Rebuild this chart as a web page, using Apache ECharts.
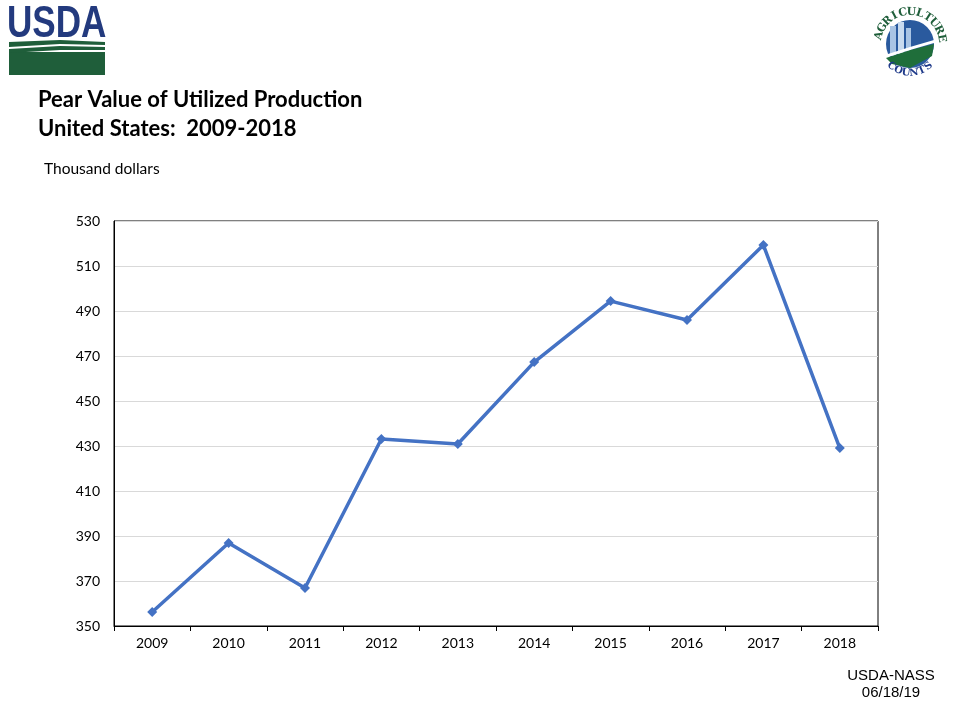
<!DOCTYPE html>
<html>
<head>
<meta charset="utf-8">
<script src="https://cdn.jsdelivr.net/npm/echarts@6/dist/echarts.min.js"></script>
<style>
html,body{margin:0;padding:0;background:#fff;}
#c{width:960px;height:720px;}
</style>
</head>
<body>
<div id="c"></div>
<script>
var years = ['2009','2010','2011','2012','2013','2014','2015','2016','2017','2018'];
var values = [356.2, 386.9, 366.9, 433.1, 430.9, 467.3, 494.4, 486.0, 519.3, 429.1];
var yTicks = {min: 350, max: 530, interval: 20};

var chart = echarts.init(document.getElementById('c'), null, {renderer: 'canvas'});

// Agriculture Counts arc letters
var arcText = 'AGRICULTURE'.split('');
var cx = 910, cy = 44, R = 32;
var arcEls = [];
var startA = -165, endA = -10;
arcText.forEach(function(ch, i){
  var a = (startA + (endA - startA) * i / (arcText.length - 1)) * Math.PI / 180;
  arcEls.push({
    type: 'text', x: cx + R * Math.cos(a), y: cy + R * Math.sin(a),
    rotation: -(a + Math.PI/2),
    style: {text: ch, fill: '#1f5e3a', font: 'bold 11px "DejaVu Serif"', align: 'center', verticalAlign: 'middle'}
  });
});
var counts = 'COUNTS'.split('');
counts.forEach(function(ch, i){
  var a = (130 - (80) * i / (counts.length - 1)) * Math.PI / 180;
  arcEls.push({
    type: 'text', x: cx + 29 * Math.cos(a), y: cy + 29 * Math.sin(a),
    rotation: -(a - Math.PI/2),
    style: {text: ch, fill: '#1f3a8a', font: 'bold 10px "DejaVu Serif"', align: 'center', verticalAlign: 'middle'}
  });
});

var option = {
  backgroundColor: '#ffffff',
  animation: false,
  grid: {left: 114, right: 82, top: 221, bottom: 94, show: true, borderColor: '#000', borderWidth: 1, containLabel: false},
  xAxis: {
    type: 'category', data: years, boundaryGap: true,
    axisLine: {lineStyle: {color: '#000', width: 1}},
    axisTick: {show: true, inside: false, length: 5, lineStyle: {color: '#000'}, alignWithLabel: false},
    axisLabel: {color: '#000', fontSize: 14, fontFamily: 'Lato', margin: 10}
  },
  yAxis: {
    type: 'value', min: yTicks.min, max: yTicks.max, interval: yTicks.interval,
    axisLine: {show: true, lineStyle: {color: '#000', width: 1}},
    axisTick: {show: false},
    splitLine: {lineStyle: {color: '#d9d9d9', width: 1}},
    axisLabel: {color: '#000', fontSize: 14, fontFamily: 'Lato', margin: 14}
  },
  series: [{
    type: 'line', data: values,
    symbol: 'diamond', symbolSize: 10,
    lineStyle: {color: '#4472C4', width: 3.5},
    itemStyle: {color: '#4472C4'}
  }],
  graphic: [
    {type: 'text', left: 38, top: 89, style: {text: 'Pear Value of Utilized Production', fill: '#000', font: 'bold 22px Lato'}},
    {type: 'text', left: 38, top: 118, style: {text: 'United States:  2009-2018', fill: '#000', font: 'bold 22px Lato'}},
    {type: 'text', left: 44, top: 161, style: {text: 'Thousand dollars', fill: '#000', font: '15.5px Lato'}},
    {type: 'text', x: 891, y: 668, style: {text: 'USDA-NASS', fill: '#000', font: '15px "Liberation Sans"', align: 'center'}},
    {type: 'text', x: 891, y: 685, style: {text: '06/18/19', fill: '#000', font: '15px "Liberation Sans"', align: 'center'}},
    // USDA logo
    {type: 'text', x: 7, y: 2, scaleX: 0.78, style: {text: 'USDA', fill: '#233a7e', font: 'bold 45px "Liberation Sans"'}},
    {type: 'rect', shape: {x: 9, y: 52, width: 96, height: 23}, style: {fill: '#1f5e3a'}},
    {type: 'polygon', shape: {points: [[9,42],[60,40],[105,42],[105,45],[60,44],[9,47]]}, style: {fill: '#1f5e3a'}},
    {type: 'polygon', shape: {points: [[9,49],[60,46],[105,47],[105,50],[60,50],[9,53]]}, style: {fill: '#1f5e3a'}},
    // Agriculture Counts logo
    {type: 'circle', shape: {cx: cx, cy: cy, r: 24}, style: {fill: '#2a5a9e'}},
    {type: 'rect', shape: {x: 890, y: 26, width: 6, height: 30}, style: {fill: '#a9c4e4'}},
    {type: 'rect', shape: {x: 898, y: 22, width: 6, height: 34}, style: {fill: '#c9dbef'}},
    {type: 'rect', shape: {x: 906, y: 28, width: 5, height: 28}, style: {fill: '#a9c4e4'}},
    {type: 'polygon', shape: {points: [[886,58],[910,50],[934,44],[932,56],[910,68],[892,64]]}, style: {fill: '#1f6e3a'}},
    {type: 'polygon', shape: {points: [[888,54],[910,47],[934,40],[934,43],[910,50],[888,57]]}, style: {fill: '#ffffff'}}
  ].concat(arcEls)
};
chart.setOption(option);
</script>
</body>
</html>
